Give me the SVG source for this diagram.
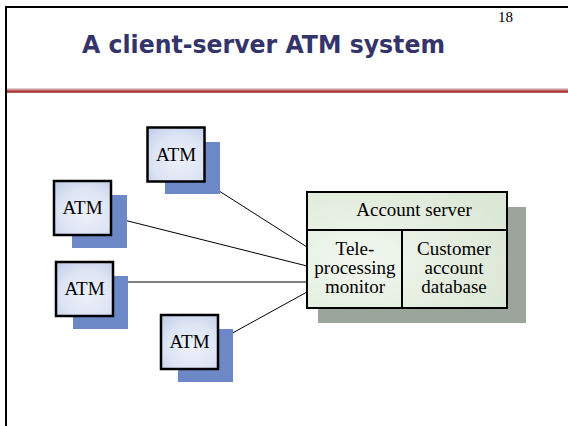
<svg xmlns="http://www.w3.org/2000/svg" width="568" height="426" viewBox="0 0 568 426">
<defs>
<style>
.atm{fill:url(#atmGrad);stroke:#000;stroke-width:2.5}
.atmShadow{fill:#6c88c6}
.lbl{font-family:"Liberation Serif","Times New Roman",serif;font-size:19px;fill:#000;text-anchor:middle}
.conn{stroke:#000;stroke-width:1;fill:none}
.srv{fill:url(#srvGrad);stroke:#000;stroke-width:2}
</style>
<radialGradient id="atmGrad" cx="0.55" cy="0.6" r="0.75">
<stop offset="0" stop-color="#eef1fa"/>
<stop offset="0.6" stop-color="#dde4f4"/>
<stop offset="1" stop-color="#c3cfea"/>
</radialGradient>
<radialGradient id="srvGrad" cx="0.25" cy="0.6" r="0.9">
<stop offset="0" stop-color="#f2f7ef"/>
<stop offset="1" stop-color="#d9e6d3"/>
</radialGradient>
</defs>
<rect x="0" y="0" width="568" height="426" fill="#fff"/>
<g id="frame">
<line x1="6" y1="7" x2="568" y2="7" stroke="#000" stroke-width="2"/>
<line x1="6" y1="6" x2="6" y2="426" stroke="#000" stroke-width="2"/>
<rect x="7" y="88.5" width="561" height="1.8" fill="#cc9a9a"/>
<rect x="7" y="90.3" width="561" height="2.5" fill="#a83434"/>
<text x="513" y="22" font-family="Liberation Serif, serif" font-size="15" text-anchor="end" fill="#000">18</text>
<text x="263.5" y="53" font-family="DejaVu Sans, sans-serif" font-weight="bold" font-size="25" fill="#34346a" text-anchor="middle" textLength="363" lengthAdjust="spacingAndGlyphs">A client-server ATM system</text>
</g>
<g id="connectors">
<line class="conn" x1="205" y1="182" x2="307" y2="247"/>
<line class="conn" x1="112" y1="217" x2="307" y2="266"/>
<line class="conn" x1="113" y1="282" x2="307" y2="282"/>
<line class="conn" x1="218" y1="341" x2="307" y2="292"/>
</g>
<g id="atm1">
<rect class="atmShadow" x="165" y="142" width="55" height="52"/>
<rect class="atm" x="147.5" y="127.5" width="57" height="54"/>
<text class="lbl" x="176" y="161">ATM</text>
</g>
<g id="atm2">
<rect class="atmShadow" x="72" y="195" width="55" height="53"/>
<rect class="atm" x="54" y="181" width="57" height="54"/>
<text class="lbl" x="82.5" y="214">ATM</text>
</g>
<g id="atm3">
<rect class="atmShadow" x="73" y="276" width="55" height="53"/>
<rect class="atm" x="56" y="262" width="57" height="54"/>
<text class="lbl" x="84.5" y="295">ATM</text>
</g>
<g id="atm4">
<rect class="atmShadow" x="178" y="329" width="55" height="53"/>
<rect class="atm" x="161" y="315" width="57" height="54"/>
<text class="lbl" x="189.5" y="348">ATM</text>
</g>
<g id="server">
<rect x="318" y="207" width="208" height="116" fill="#9ba59c"/>
<rect class="srv" x="307" y="192" width="200" height="116"/>
<line x1="307" y1="230" x2="507" y2="230" stroke="#000" stroke-width="2"/>
<line x1="402" y1="230" x2="402" y2="308" stroke="#000" stroke-width="2"/>
<text class="lbl" x="414" y="216">Account server</text>
<text class="lbl" x="355" y="255">Tele-</text>
<text class="lbl" x="355" y="274">processing</text>
<text class="lbl" x="355" y="293">monitor</text>
<text class="lbl" x="454" y="255">Customer</text>
<text class="lbl" x="454" y="274">account</text>
<text class="lbl" x="454" y="293">database</text>
</g>
</svg>
